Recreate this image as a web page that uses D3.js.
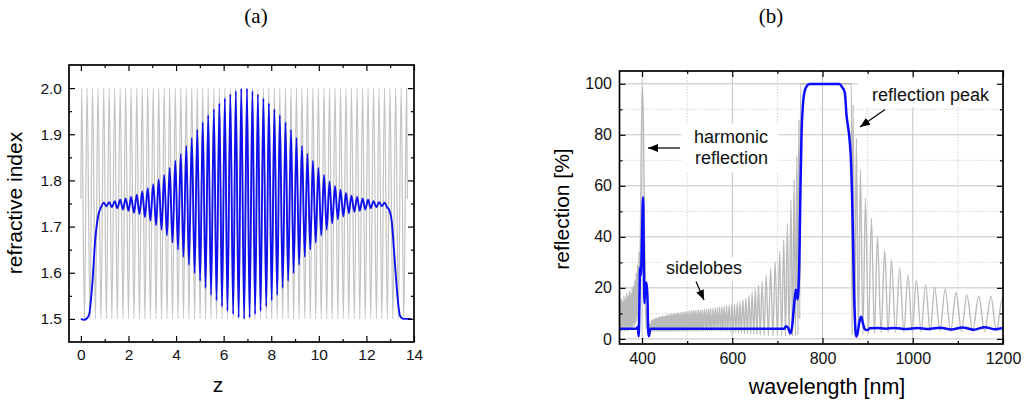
<!DOCTYPE html>
<html>
<head>
<meta charset="utf-8">
<script src="https://cdn.jsdelivr.net/npm/d3@7"></script>
<style>
  body { margin: 0; background: #fff; }
  svg { display: block; font-family: "Liberation Sans", Arial, sans-serif; }
</style>
</head>
<body>
<svg width="1024" height="403"></svg>
<script>
// ---------- Data: panel (a), refractive index profile ----------
// gray: uniform grating, values at each extremum
const aGrayZ = [0.00,
  0.03,0.15,0.26,0.38,0.49,0.61,0.72,0.84,0.96,1.07,
  1.19,1.30,1.42,1.53,1.65,1.77,1.88,2.00,2.11,2.23,
  2.35,2.46,2.58,2.69,2.81,2.92,3.04,3.16,3.27,3.39,
  3.50,3.62,3.73,3.85,3.97,4.08,4.20,4.31,4.43,4.54,
  4.66,4.78,4.89,5.01,5.12,5.24,5.35,5.47,5.59,5.70,
  5.82,5.93,6.05,6.16,6.28,6.40,6.51,6.63,6.74,6.86,
  6.98,7.09,7.21,7.32,7.44,7.55,7.67,7.79,7.90,8.02,
  8.13,8.25,8.36,8.48,8.60,8.71,8.83,8.94,9.06,9.17,
  9.29,9.41,9.52,9.64,9.75,9.87,9.98,10.10,10.22,10.33,
  10.45,10.56,10.68,10.80,10.91,11.03,11.14,11.26,11.37,11.49,
  11.61,11.72,11.84,11.95,12.07,12.18,12.30,12.42,12.53,12.65,
  12.76,12.88,12.99,13.11,13.23,13.34,13.46,13.57,13.69,
  13.72];
const aGrayN = [1.76,
  2.0,1.5,2.0,1.5,2.0,1.5,2.0,1.5,2.0,1.5,
  2.0,1.5,2.0,1.5,2.0,1.5,2.0,1.5,2.0,1.5,
  2.0,1.5,2.0,1.5,2.0,1.5,2.0,1.5,2.0,1.5,
  2.0,1.5,2.0,1.5,2.0,1.5,2.0,1.5,2.0,1.5,
  2.0,1.5,2.0,1.5,2.0,1.5,2.0,1.5,2.0,1.5,
  2.0,1.5,2.0,1.5,2.0,1.5,2.0,1.5,2.0,1.5,
  2.0,1.5,2.0,1.5,2.0,1.5,2.0,1.5,2.0,1.5,
  2.0,1.5,2.0,1.5,2.0,1.5,2.0,1.5,2.0,1.5,
  2.0,1.5,2.0,1.5,2.0,1.5,2.0,1.5,2.0,1.5,
  2.0,1.5,2.0,1.5,2.0,1.5,2.0,1.5,2.0,1.5,
  2.0,1.5,2.0,1.5,2.0,1.5,2.0,1.5,2.0,1.5,
  2.0,1.5,2.0,1.5,2.0,1.5,2.0,1.5,2.0,
  1.76];

// blue: apodized grating
const aBlueZ = [0.00,0.12,0.25,0.35,0.42,0.49,0.60,0.73,0.85,
  0.96,1.07,
  1.19,1.30,1.42,1.53,1.65,1.77,1.88,2.00,2.11,2.23,
  2.35,2.46,2.58,2.69,2.81,2.92,3.04,3.16,3.27,3.39,
  3.50,3.62,3.73,3.85,3.97,4.08,4.20,4.31,4.43,4.54,
  4.66,4.78,4.89,5.01,5.12,5.24,5.35,5.47,5.59,5.70,
  5.82,5.93,6.05,6.16,6.28,6.40,6.51,6.63,6.74,6.86,
  6.98,7.09,7.21,7.32,7.44,7.55,7.67,7.79,7.90,8.02,
  8.13,8.25,8.36,8.48,8.60,8.71,8.83,8.94,9.06,9.17,
  9.29,9.41,9.52,9.64,9.75,9.87,9.98,10.10,10.22,10.33,
  10.45,10.56,10.68,10.80,10.91,11.03,11.14,11.26,11.37,11.49,
  11.61,11.72,11.84,11.95,12.07,12.18,12.30,12.42,12.53,12.65,
  12.76,12.88,
  12.95,13.06,13.20,13.31,13.41,13.55,13.90];
const aBlueN = [1.500,1.498,1.501,1.510,1.540,1.583,1.670,1.724,1.742,
  1.752,1.744,
  1.753,1.742,1.755,1.740,1.758,1.737,1.761,1.734,1.764,1.730,
  1.769,1.727,1.776,1.720,1.783,1.713,1.792,1.703,1.802,1.693,
  1.812,1.681,1.827,1.665,1.843,1.650,1.858,1.634,1.875,1.617,
  1.892,1.599,1.910,1.582,1.926,1.567,1.941,1.552,1.954,1.540,
  1.967,1.527,1.978,1.517,1.987,1.510,1.994,1.503,1.999,1.500,
  1.999,1.503,1.994,1.510,1.987,1.517,1.978,1.527,1.967,1.540,
  1.954,1.552,1.941,1.567,1.926,1.582,1.910,1.599,1.892,1.617,
  1.875,1.634,1.858,1.650,1.843,1.665,1.827,1.681,1.812,1.693,
  1.798,1.707,1.788,1.716,1.780,1.722,1.773,1.729,1.767,1.732,
  1.764,1.734,1.761,1.737,1.758,1.740,1.755,1.742,1.753,1.744,
  1.752,1.741,
  1.737,1.713,1.619,1.546,1.507,1.500,1.500];

// ---------- Data: panel (b), reflection spectra ----------
const bGrayWl = [350,351,352.5,354,355.5,357,358.5,360,361.5,363,364.5,366,367.5,369,370.5,
  372,373.5,375,376.5,378,379.5,381,382.5,384,385.5,387,388.5,390,391.5,393,
  394.5,396.5,398.5,401,403.5,405.5,407.5,409,410.5,412,413.5,415,416.5,
  418,421,422.5,424,425.5,427,428.5,430,431.5,433,434.5,436,437.5,439,440.5,442,443.5,445,446.5,
  448,449.5,451,452.5,454,455.5,457,458.5,460,461.5,463,464.5,466,467.5,469,470.5,472,473.5,
  475,476.5,478,479.5,481,483,484.5,486,488,490,491.5,493,495,497,498.5,500,502,504,506,508,
  510,512,514,516,518,520,522,524,526,528,530,532,534,536,538.5,541,543,545,547.5,550,
  552,554.5,557,559.5,562,564.5,567,569.5,572,574.5,577,579.5,582,585,587.5,590,593,596,
  599,602,605,608,611,614,617,620,623.5,627,630,633.5,637,640.5,644,647.5,651,654.5,
  658,662,666,670.5,675,680,685,690,695,700,705,709.5,714,718,722,726,730,733.5,737,740,
  743,745.5,747.5,749.5,751.5,
  864,865.5,867.7,871.3,875,879.5,884,889.5,895.1,901.7,908.4,915,921.7,929.8,937.9,945.3,
  952.7,961.8,971,980.2,989.5,998.7,1008,1018.3,1028.5,1038.5,1048.5,1060,1072,1084,
  1096,1108,1120,1133,1146,1159.5,1173,1185.5,1198,1200];
const bGrayR = [9,15,3,16,3,15,3.5,17,3,16,3.5,18,3,17,4,
  19,3.5,18,4,20,4.5,21,5,23,6,26,7,29,9,34,
  24,45,80,98.8,78,42,18,4,12,1.5,6,1.2,6,
  2,7.2,3,7.6,3,7.9,3,8.1,3,8.3,3,8.5,3,8.7,3,8.8,3,8.9,3,
  9.0,3,9.1,3,9.2,3,9.4,3,9.5,3,9.6,3,9.7,3,9.8,3,9.9,3,
  10.0,3,10.1,3,10.2,3,10.3,3,10.4,3,10.5,3,10.6,3,10.7,3,10.8,3,10.9,3,
  11.0,3,11.1,3,11.2,3,11.3,3,11.35,3,11.4,3,11.5,3,11.6,3,11.7,3,11.8,3,
  11.9,3,12.0,3,12.2,3,12.3,3,12.5,3,12.6,3,12.8,3,13.0,3,13.2,2.8,
  13.4,2.5,13.7,2.5,14.1,2.3,14.6,2.2,15.3,2,16.0,2,17.0,1.8,18.2,1.8,19.5,1.6,
  21.0,1.5,22.7,1.4,25,1.3,27.7,1.2,30.3,1.2,34.2,1.1,38.8,1.0,45.3,1.0,54.4,1.0,62.3,1.0,
  72,1.5,86,8,100,
  100,1.5,91.7,1.5,78.6,1.5,66.2,1.8,55.1,2.0,47.3,2.2,40.1,2.4,34.9,2.5,
  30.9,2.6,27.7,2.7,25.1,2.8,23.1,2.9,21.3,3,20.3,3,19.5,3,
  18.2,3,17.2,3,16.8,3,16.6,3,15.5,15.3];

const bBlueWl = [350,388,390.5,392.5,394,395.5,397.5,399.5,402.3,404,405.5,407,410,412,413.5,415,417,419,
  715,719,723,729.5,733,736,739,741,742.5,744.5,746.5,748.3,749.5,751,753.3,756.8,761,766,772,
  838,843,849.5,853,860,863.5,865.5,867.7,869.8,873,875,878,882,885.8,889,893,897,901,905,
  920,940,960,985,1010,1035,1060,1085,1110,1135,1160,1180,1200];
const bBlueR = [4,4,4.8,1,12,28,25,38,55.5,30,14,22,22,16,4,1,3,4,
  4,5,4.5,2.2,5.5,11.5,17,19.3,18.5,15.5,19,28,40,58,79,92.3,97.5,99.3,99.9,
  99.9,98.8,96.5,88,78,68,56,38.8,19.2,3.5,0.9,2.5,7,8.7,6.5,4,3.5,3.6,4.2,
  4.3,4.0,4.3,3.9,4.3,3.9,4.4,3.7,4.5,3.6,4.6,3.8,4.3];

// ---------- Ticks ----------
const aXTicks = [0, 2, 4, 6, 8, 10, 12, 14];
const aXMinor = [1, 3, 5, 7, 9, 11, 13];
const aYTicks = [1.5, 1.6, 1.7, 1.8, 1.9, 2.0];
const aYMinor = [1.55, 1.65, 1.75, 1.85, 1.95];
const bXTicks = [400, 600, 800, 1000, 1200];
const bXMinor = [500, 700, 900, 1100];
const bYTicks = [0, 20, 40, 60, 80, 100];
const bYMinor = [10, 30, 50, 70, 90];

// ---------- Layout ----------
const svg = d3.select("svg");
const frameA = {left: 69, top: 65, right: 414, bottom: 342};
const frameB = {left: 619.5, top: 71, right: 1003, bottom: 344};

const xA = d3.scaleLinear().domain([-0.5, 14]).range([frameA.left, frameA.right]);
const yA = d3.scaleLinear().domain([1.45, 2.05]).range([frameA.bottom, frameA.top]);
const xB = d3.scaleLinear().domain([350, 1200]).range([frameB.left, frameB.right]);
const yB = d3.scaleLinear().domain([-2, 105]).range([frameB.bottom, frameB.top]);

// clip paths for the plot areas
const defs = svg.append("defs");
[["clipA", frameA], ["clipB", frameB]].forEach(([id, f]) => {
    defs.append("clipPath").attr("id", id)
        .append("rect")
        .attr("x", f.left).attr("y", f.top)
        .attr("width", f.right - f.left).attr("height", f.bottom - f.top);
});
defs.append("marker")
    .attr("id", "arrow")
    .attr("markerUnits", "userSpaceOnUse")
    .attr("viewBox", "0 0 10 8")
    .attr("refX", 10).attr("refY", 4)
    .attr("markerWidth", 10).attr("markerHeight", 8)
    .attr("orient", "auto")
    .append("path")
    .attr("d", "M0,0 L10,4 L0,8 z")
    .attr("fill", "#000");

// Draw the four inward-ticked sides of a frame
function drawAxes(f, x, y, o) {
    const g = svg.append("g");
    const fix = sel => sel.attr("font-family", null).attr("font-size", o.fontSize)
        .call(s => s.select(".domain").remove());

    g.append("g").attr("transform", `translate(0,${f.bottom})`)
        .call(d3.axisBottom(x).tickValues(o.xTicks).tickSize(-6).tickPadding(o.xPad).tickFormat(o.xFmt))
        .call(fix);
    g.append("g").attr("transform", `translate(0,${f.bottom})`)
        .call(d3.axisBottom(x).tickValues(o.xMinor).tickSize(-3).tickFormat(""))
        .call(fix);
    g.append("g").attr("transform", `translate(0,${f.top})`)
        .call(d3.axisTop(x).tickValues(o.xTicks).tickSize(-6).tickFormat(""))
        .call(fix);
    g.append("g").attr("transform", `translate(0,${f.top})`)
        .call(d3.axisTop(x).tickValues(o.xMinor).tickSize(-3).tickFormat(""))
        .call(fix);

    g.append("g").attr("transform", `translate(${f.left},0)`)
        .call(d3.axisLeft(y).tickValues(o.yTicks).tickSize(-6).tickPadding(o.yPad).tickFormat(o.yFmt))
        .call(fix);
    g.append("g").attr("transform", `translate(${f.left},0)`)
        .call(d3.axisLeft(y).tickValues(o.yMinor).tickSize(-3).tickFormat(""))
        .call(fix);
    g.append("g").attr("transform", `translate(${f.right},0)`)
        .call(d3.axisRight(y).tickValues(o.yTicks).tickSize(-6).tickFormat(""))
        .call(fix);
    g.append("g").attr("transform", `translate(${f.right},0)`)
        .call(d3.axisRight(y).tickValues(o.yMinor).tickSize(-3).tickFormat(""))
        .call(fix);

    g.selectAll(".tick line").attr("stroke-width", 1.2);
    g.selectAll(".tick text").attr("fill", "#111");

    // frame
    svg.append("rect")
        .attr("x", f.left).attr("y", f.top)
        .attr("width", f.right - f.left).attr("height", f.bottom - f.top)
        .attr("fill", "none").attr("stroke", "#000").attr("stroke-width", 1.7);
}

// ---------- Panel (a) ----------
const lineA = d3.line().x(d => xA(d[0])).y(d => yA(d[1])).curve(d3.curveMonotoneX);
const gA = svg.append("g").attr("clip-path", "url(#clipA)");

gA.append("path")
    .attr("d", lineA(d3.zip(aGrayZ, aGrayN)))
    .attr("fill", "none").attr("stroke", "#c4c4c4").attr("stroke-width", 1.25);

gA.append("path")
    .attr("d", lineA(d3.zip(aBlueZ, aBlueN)))
    .attr("fill", "none").attr("stroke", "#1010ee").attr("stroke-width", 1.9);

drawAxes(frameA, xA, yA, {
    xTicks: aXTicks, xMinor: aXMinor, yTicks: aYTicks, yMinor: aYMinor,
    xFmt: d3.format("d"), yFmt: d3.format(".1f"), xPad: 7, yPad: 7, fontSize: 15.5
});

svg.append("text")
    .attr("transform", "translate(22,203) rotate(-90)")
    .attr("text-anchor", "middle")
    .attr("font-size", 21)
    .text("refractive index");

svg.append("text")
    .attr("x", 218).attr("y", 391.5)
    .attr("text-anchor", "middle")
    .attr("font-size", 21)
    .text("z");

// ---------- Panel (b) ----------
// grid
const grid = svg.append("g");
grid.selectAll(".vmin").data(bXMinor).join("line")
    .attr("x1", d => xB(d)).attr("x2", d => xB(d))
    .attr("y1", frameB.top).attr("y2", frameB.bottom)
    .attr("stroke", "#d4d4d4").attr("stroke-width", 1).attr("stroke-dasharray", "1.5,1.5");
grid.selectAll(".hmin").data(bYMinor).join("line")
    .attr("x1", frameB.left).attr("x2", frameB.right)
    .attr("y1", d => yB(d)).attr("y2", d => yB(d))
    .attr("stroke", "#d4d4d4").attr("stroke-width", 1).attr("stroke-dasharray", "1.5,1.5");
grid.selectAll(".vmaj").data(bXTicks).join("line")
    .attr("x1", d => xB(d)).attr("x2", d => xB(d))
    .attr("y1", frameB.top).attr("y2", frameB.bottom)
    .attr("stroke", "#c4c4c4").attr("stroke-width", 1);
grid.selectAll(".hmaj").data(bYTicks).join("line")
    .attr("x1", frameB.left).attr("x2", frameB.right)
    .attr("y1", d => yB(d)).attr("y2", d => yB(d))
    .attr("stroke", "#c4c4c4").attr("stroke-width", 1);

const lineB = d3.line().x(d => xB(d[0])).y(d => yB(d[1])).curve(d3.curveMonotoneX);
const gB = svg.append("g").attr("clip-path", "url(#clipB)");

gB.append("path")
    .attr("d", lineB(d3.zip(bGrayWl, bGrayR)))
    .attr("fill", "none").attr("stroke", "#bababa").attr("stroke-width", 1.35);

gB.append("path")
    .attr("d", lineB(d3.zip(bBlueWl, bBlueR)))
    .attr("fill", "none").attr("stroke", "#0c0cff").attr("stroke-width", 2.5)
    .attr("stroke-linejoin", "round");

// annotation boxes and labels
const notes = svg.append("g").attr("font-size", 18).attr("fill", "#111");
[[681, 124, 98, 48], [858, 79, 144, 28], [662, 257, 84, 24]].forEach(([x, y, w, h]) => {
    notes.append("rect").attr("x", x).attr("y", y).attr("width", w).attr("height", h).attr("fill", "#fff");
});
notes.append("text").attr("x", 694).attr("y", 142.5).text("harmonic");
notes.append("text").attr("x", 695).attr("y", 164.3).text("reflection");
notes.append("text").attr("x", 872).attr("y", 101).text("reflection peak");
notes.append("text").attr("x", 666).attr("y", 273.5).text("sidelobes");

[[680, 148, 648, 148], [885, 109.5, 860, 127], [696, 281.5, 704, 300]].forEach(([x1, y1, x2, y2]) => {
    notes.append("line")
        .attr("x1", x1).attr("y1", y1).attr("x2", x2).attr("y2", y2)
        .attr("stroke", "#000").attr("stroke-width", 1.2)
        .attr("marker-end", "url(#arrow)");
});

drawAxes(frameB, xB, yB, {
    xTicks: bXTicks, xMinor: bXMinor, yTicks: bYTicks, yMinor: bYMinor,
    xFmt: d3.format("d"), yFmt: d3.format("d"), xPad: 8.5, yPad: 7.5, fontSize: 16
});

svg.append("text")
    .attr("transform", "translate(569,209) rotate(-90)")
    .attr("text-anchor", "middle")
    .attr("font-size", 21)
    .text("reflection [%]");

svg.append("text")
    .attr("x", 827).attr("y", 393.5)
    .attr("text-anchor", "middle")
    .attr("font-size", 21.5)
    .text("wavelength [nm]");

// ---------- Panel titles ----------
svg.append("text")
    .attr("x", 256).attr("y", 23)
    .attr("text-anchor", "middle")
    .attr("font-family", "'Liberation Serif', 'Times New Roman', serif")
    .attr("font-size", 21)
    .text("(a)");

svg.append("text")
    .attr("x", 771).attr("y", 23)
    .attr("text-anchor", "middle")
    .attr("font-family", "'Liberation Serif', 'Times New Roman', serif")
    .attr("font-size", 21)
    .text("(b)");
</script>
</body>
</html>
